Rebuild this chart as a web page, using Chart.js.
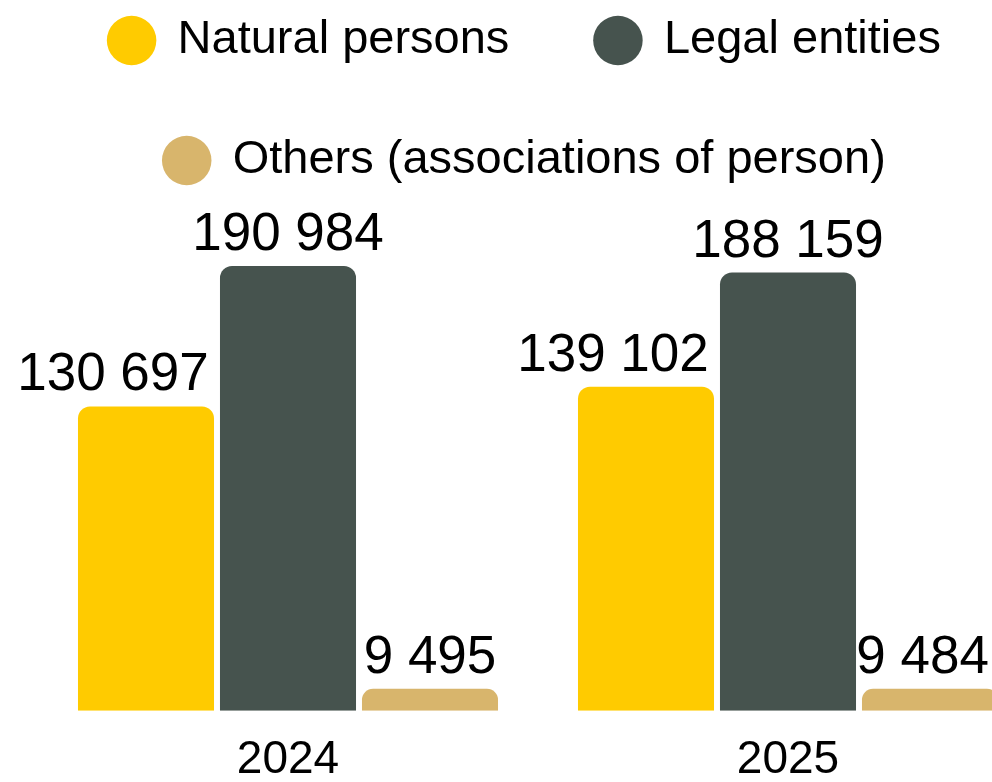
<!DOCTYPE html>
<html>
<head>
<meta charset="utf-8">
<script src="https://cdn.jsdelivr.net/npm/chart.js@4.4.1/dist/chart.umd.min.js"></script>
<style>
  html, body { margin: 0; padding: 0; background: #ffffff; overflow: hidden; width: 992px; height: 782px; }
  #wrap { position: absolute; left: 0; top: -56px; }
</style>
</head>
<body>
<div id="wrap"><canvas id="c" width="1038" height="866"></canvas></div>
<script>
const categories = ["2024", "2025"];
const seriesNames = ["Natural persons", "Legal entities", "Others (associations of person)"];
const naturalPersons = [130697, 139102];
const legalEntities = [190984, 188159];
const others = [9495, 9484];
const seriesColors = ["#FFCB00", "#46534E", "#D8B56C"];

const FONT = '"Liberation Sans", Arial, Helvetica, sans-serif';

function fmt(v) {
  return String(v).replace(/\B(?=(\d{3})+(?!\d))/g, " ");
}

// horizontal nudge of the value labels per series (style only)
const labelShift = [-33, 0, 0];

const valueLabels = {
  id: "valueLabels",
  afterDatasetsDraw(chart) {
    const ctx = chart.ctx;
    ctx.save();
    ctx.font = "53px " + FONT;
    ctx.fillStyle = "#000000";
    ctx.textAlign = "center";
    ctx.textBaseline = "alphabetic";
    chart.data.datasets.forEach((ds, di) => {
      const meta = chart.getDatasetMeta(di);
      meta.data.forEach((el, i) => {
        const txt = fmt(ds.data[i]);
        const w = ctx.measureText(txt).width;
        let x = el.x + labelShift[di];
        const maxX = 989 - w / 2;
        if (x > maxX) x = maxX;
        ctx.fillText(txt, x, el.y - 16);
      });
    });
    ctx.restore();
  }
};

const dsCommon = {
  borderWidth: 0,
  borderRadius: 12,
  borderSkipped: "start",
  categoryPercentage: 0.852,
  barPercentage: 0.958
};

new Chart(document.getElementById("c"), {
  type: "bar",
  data: {
    labels: categories,
    datasets: [
      Object.assign({ label: seriesNames[0], data: naturalPersons, backgroundColor: seriesColors[0] }, dsCommon),
      Object.assign({ label: seriesNames[1], data: legalEntities, backgroundColor: seriesColors[1] }, dsCommon),
      Object.assign({ label: seriesNames[2], data: others, backgroundColor: seriesColors[2] }, dsCommon)
    ]
  },
  options: {
    responsive: false,
    animation: false,
    devicePixelRatio: 1,
    layout: { padding: { left: 12, right: 0, top: 0, bottom: 0 } },
    plugins: {
      tooltip: { enabled: false },
      legend: {
        display: true,
        position: "top",
        labels: {
          usePointStyle: true,
          pointStyle: "circle",
          boxWidth: 45,
          boxHeight: 35,
          padding: 73,
          color: "#000000",
          font: { family: FONT, size: 47 },
          generateLabels(chart) {
            const items = Chart.defaults.plugins.legend.labels.generateLabels(chart);
            if (items.length) items[0].text = items[0].text + " ";
            return items;
          }
        }
      }
    },
    scales: {
      x: {
        grid: { display: false, drawTicks: false },
        border: { display: false },
        ticks: { color: "#000000", padding: 22, font: { family: FONT, size: 46 } }
      },
      y: {
        display: true,
        min: 0,
        max: 221900,
        grid: { display: false, drawTicks: false },
        border: { display: false },
        ticks: { display: false },
        afterFit(axis) { axis.width = 26; }
      }
    }
  },
  plugins: [valueLabels]
});
</script>
</body>
</html>
